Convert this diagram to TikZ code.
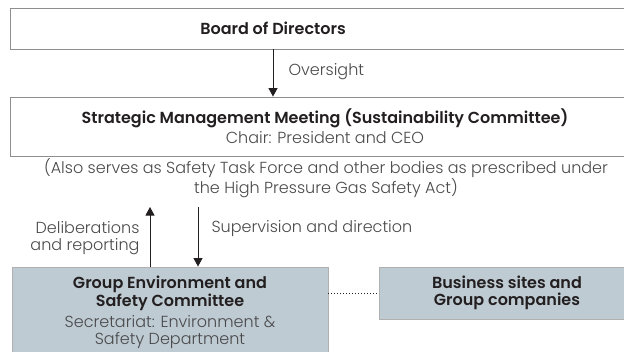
\documentclass[tikz,border=0pt]{standalone}
\usepackage{fontspec}
\IfFontExistsTF{Poppins SemiBold}
  {\setmainfont{Poppins}[BoldFont={Poppins SemiBold}]}
  {\setmainfont{Poppins}}
\IfFontExistsTF{Poppins Light}
  {\newfontfamily\thinfont{Poppins Light}[BoldFont={Poppins Light}]}
  {\newfontfamily\thinfont{Poppins}}
\usepackage{xcolor}
\usetikzlibrary{arrows.meta,positioning}
\definecolor{framegray}{HTML}{8E8E8E}
\definecolor{panelblue}{HTML}{BECBD2}
\definecolor{inkdark}{HTML}{231F20}
\definecolor{inklight}{HTML}{4A4A4C}
\tikzset{
  plainbox/.style={ % white body, thin grey frame
    draw=framegray, fill=white, rectangle, inner sep=0pt, line width=0.9pt
  },
  tintbox/.style={ % blue-grey body
    draw=framegray!70, fill=panelblue, rectangle, inner sep=0pt, line width=0.9pt
  },
  headtext/.style={
    font=\fontsize{16}{18}\selectfont\bfseries, text=inkdark, align=center
  },
  subtext/.style={
    font=\fontsize{16}{18}\selectfont\thinfont, text=inklight, align=center
  },
  flow/.style={
    -{Triangle[length=8.5pt,width=9pt]}, line width=1pt, inkdark
  },
  tie/.style={
    dotted, line width=1pt, inkdark
  }
}
\newcommand{\light}[1]{{\fontsize{16}{18}\selectfont\mdseries\thinfont\color{inklight}#1}}

\begin{document}
\begin{tikzpicture}[x=1pt, y=-1pt]
  \useasboundingbox (0,0) rectangle (624,351);

  % boxes
  \node[plainbox, minimum width=630pt, minimum height=41pt] (board) at (325,28.5) {};
  \node[headtext] (boardtext) at (273,28.5) {Board of Directors};
  \node[plainbox, headtext, minimum width=630pt, minimum height=59pt] (strategic) at (325,126.5)
    {Strategic Management Meeting (Sustainability Committee)\\[2pt]
     \light{Chair: President and CEO}};
  \node[subtext] (note) at (326,178)
    {(Also serves as Safety Task Force and other bodies as prescribed under\\
     the High Pressure Gas Safety Act)};
  \node[tintbox, headtext, minimum width=316pt, minimum height=90pt] (group) at (170,312)
    {Group Environment and\\ Safety Committee\\[3pt]
     \light{Secretariat: Environment \&}\\[-1pt]
     \light{Safety Department}};
  \node[tintbox, headtext, minimum width=256pt, minimum height=52pt] (business) at (507,293)
    {Business sites and\\[-1pt] Group companies};

  % flows
  \coordinate (reporttop) at (150,207);
  \coordinate (supervisetop) at (198,207);
  \draw[flow] (boardtext |- board.south) -- (boardtext |- strategic.north);
  \draw[flow] (reporttop |- group.north) -- (reporttop);
  \draw[flow] (supervisetop) -- (supervisetop |- group.north);
  \draw[tie] (group.east |- business.west) -- (business.west);

  % labels
  \node[subtext, anchor=west] (oversight) at (285,72) {Oversight};
  \node[subtext, anchor=east, align=right] (reporting) at (143,238.5)
    {Deliberations\\[-1pt] and reporting};
  \node[subtext, anchor=west] (supervision) at (208,229) {Supervision and direction};
\end{tikzpicture}
\end{document}
